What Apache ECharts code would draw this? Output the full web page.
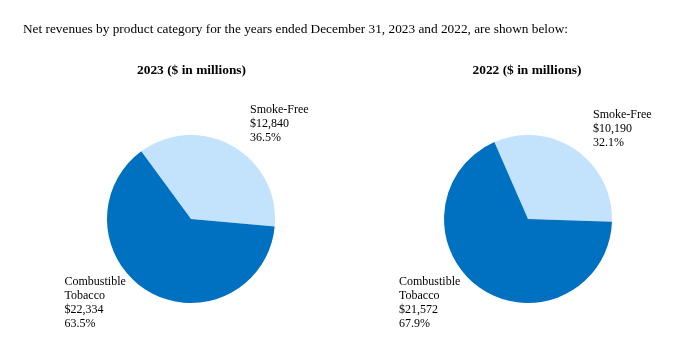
<!DOCTYPE html>
<html>
<head>
<meta charset="utf-8">
<script src="https://cdn.jsdelivr.net/npm/echarts@6/dist/echarts.min.js"></script>
<style>html,body{margin:0;padding:0;background:#fff}#c{width:685px;height:355px}</style>
</head>
<body>
<div id="c"></div>
<script>
var categories = ['Smoke-Free', 'Combustible\nTobacco'];
var values2023 = [12840, 22334];
var values2022 = [10190, 21572];
var years = ['2023', '2022'];
var headline = 'Net revenues by product category for the years ended December 31, 2023 and 2022, are shown below:';

var colors = ['#c3e3fc', '#0070c0'];
var font = '"Liberation Serif", "Times New Roman", serif';

function mkData(vals) {
  return categories.map(function (c, i) { return { name: c, value: vals[i] }; });
}
function fmt(p) {
  return p.name + '\n$' + p.value.toLocaleString('en-US') + '\n' + p.percent.toFixed(1) + '%';
}
// label anchor positions (left, top) per pie per slice
var labelPos = [
  [[250, 102.5], [64.5, 275.2]],
  [[593, 108.3], [399, 275.2]]
];
function mkSeries(idx, vals, center, startAngle) {
  return {
    type: 'pie',
    center: center,
    radius: 84,
    startAngle: startAngle,
    clockwise: true,
    animation: false,
    silent: true,
    avoidLabelOverlap: false,
    data: mkData(vals),
    itemStyle: { borderWidth: 0 },
    label: {
      show: true,
      position: 'outside',
      formatter: fmt,
      fontFamily: font,
      fontSize: 12,
      lineHeight: 14,
      color: '#000',
      align: 'left',
      overflow: 'none',
      width: 120
    },
    labelLine: { show: false },
    labelLayout: function (params) {
      var p = labelPos[idx][params.dataIndex];
      return { x: p[0], y: p[1], align: 'left', verticalAlign: 'top' };
    }
  };
}

var chart = echarts.init(document.getElementById('c'), null, { renderer: 'canvas' });
chart.setOption({
  color: colors,
  title: [
    { text: headline, left: 23, top: 23, padding: 0,
      textStyle: { fontFamily: font, fontSize: 13.3, fontWeight: 'normal', color: '#000' } },
    { text: years[0] + ' ($ in millions)', left: 191.5, textAlign: 'center', top: 64.5, padding: 0,
      textStyle: { fontFamily: font, fontSize: 13.4, fontWeight: 'bold', color: '#000' } },
    { text: years[1] + ' ($ in millions)', left: 527, textAlign: 'center', top: 64.5, padding: 0,
      textStyle: { fontFamily: font, fontSize: 13.4, fontWeight: 'bold', color: '#000' } }
  ],
  series: [
    mkSeries(0, values2023, [191, 219], 126.3),
    mkSeries(1, values2022, [528, 219], 113.6)
  ]
});
</script>
</body>
</html>
